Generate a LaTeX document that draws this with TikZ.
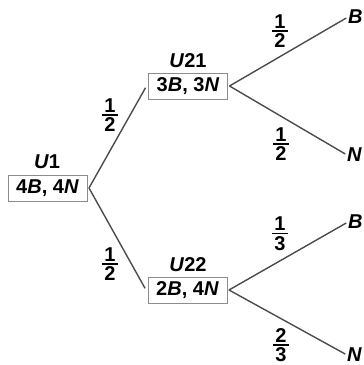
\documentclass[tikz,border=0pt]{standalone}
\usepackage{fontspec}
\setmainfont{Liberation Sans}
\newcommand{\fr}[2]{\vbox{\hbox to 16pt{\hss\bfseries #1\hss}\kern2.2pt\hrule height 1.3pt\kern2.2pt\hbox to 16pt{\hss\bfseries #2\hss}}}
\begin{document}
\begin{tikzpicture}[x=1pt,y=-1pt,
  box/.style={draw=black!45,line width=0.9pt,minimum width=79pt,minimum height=26pt,inner sep=1pt,outer sep=2pt,font=\fontsize{20}{22}\selectfont\bfseries},
  lab/.style={font=\fontsize{20}{22}\selectfont\bfseries,inner sep=0pt},
  leaf/.style={font=\fontsize{20}{22}\selectfont\bfseries\itshape,inner sep=0pt,outer sep=0pt},
  fra/.style={font=\fontsize{20}{22}\selectfont,inner sep=0pt},
  br/.style={draw=black!70,line width=1.4pt,shorten >=2pt}]
\useasboundingbox (0,0) rectangle (364,365);
\node[box] (u1) at (47.5,188) {4\textit{B}, 4\textit{N}};
\node[lab] (l1) at (47,162) {\textit{U}1};
\node[box] (u21) at (188,86) {3\textit{B}, 3\textit{N}};
\node[lab] (l21) at (188,61) {\textit{U}21};
\node[box] (u22) at (187.5,290) {2\textit{B}, 4\textit{N}};
\node[lab] (l22) at (188,265) {\textit{U}22};
\node[leaf,anchor=west] (b1) at (348,17) {B};
\node[leaf,anchor=west] (n1) at (347,155) {N};
\node[leaf,anchor=west] (b2) at (348,222) {B};
\node[leaf,anchor=west] (n2) at (347,355) {N};
\draw[br] (u1.east) -- (u21.west);
\draw[br] (u1.east) -- (u22.west);
\draw[br] (u21.east) -- (b1.west);
\draw[br] (u21.east) -- (n1.west);
\draw[br] (u22.east) -- (b2.west);
\draw[br] (u22.east) -- (n2.west);
\node[fra] (f1) at (110,115) {\fr{1}{2}};
\node[fra] (f2) at (110,264) {\fr{1}{2}};
\node[fra] (f3) at (280,31) {\fr{1}{2}};
\node[fra] (f4) at (281,144) {\fr{1}{2}};
\node[fra] (f5) at (280,234) {\fr{1}{3}};
\node[fra] (f6) at (281,345) {\fr{2}{3}};
\end{tikzpicture}
\end{document}
